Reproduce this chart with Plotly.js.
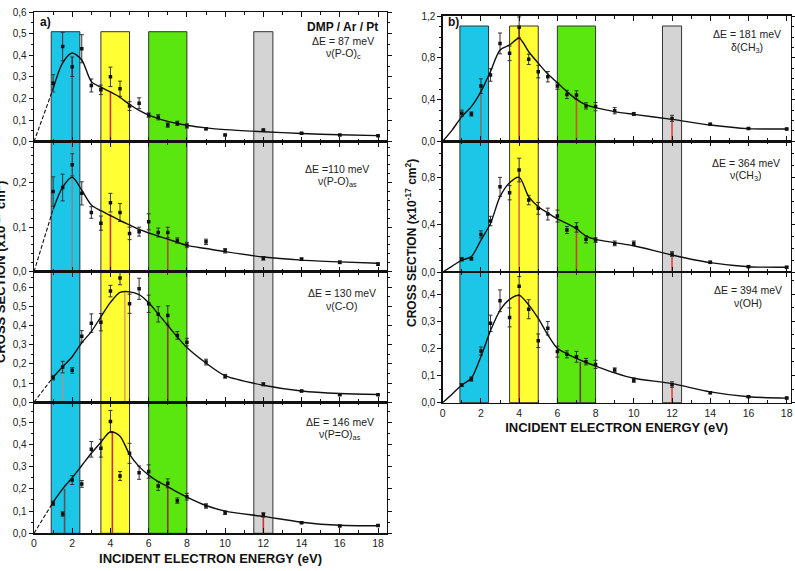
<!DOCTYPE html>
<html><head><meta charset="utf-8">
<script src="https://cdn.plot.ly/plotly-3.0.1.min.js"></script>
<style>html,body{margin:0;padding:0;background:#fff}#chart{width:795px;height:571px}</style>
</head><body><div id="chart"></div>
<script>
// ---------- data ----------
const energy = [1,1.5,2,2.5,3,3.5,4,4.5,5,5.5,6,6.5,7,7.5,8,9,10,12,14,16,18];
const fitEnergy = [0,0.5,1,1.5,2,2.5,3,3.5,4,4.5,5,5.5,6,6.5,7,7.5,8,9,10,12,14,16,18];

// a) DMP / Ar / Pt
const cs87  = [0.27,0.44,0.347,0.43,0.26,0.24,0.30,0.245,0.165,0.178,0.123,0.113,0.077,0.085,0.073,0.06,0.031,0.054,0.039,0.031,0.028];
const err87 = [0.04,0.066,0.045,0.065,0.03,0.022,0.045,0.035,0.02,0.025,0.01,0.012,0.01,0.01,0.01,0.005,0.004,0.004,0.004,0.003,0.003];
const fit87 = [0,0.125,0.245,0.365,0.41,0.378,0.278,0.252,0.23,0.205,0.172,0.145,0.123,0.107,0.094,0.084,0.076,0.064,0.056,0.046,0.038,0.032,0.028];

const cs110  = [0.18,0.189,0.24,0.176,0.133,0.109,0.155,0.133,0.086,0.09,0.112,0.088,0.088,0.07,0.06,0.067,0.047,0.03,0.028,0.021,0.017];
const err110 = [0.033,0.03,0.025,0.026,0.013,0.016,0.021,0.02,0.014,0.01,0.018,0.01,0.012,0.006,0.006,0.006,0.005,0.004,0.003,0.003,0.003];
const fit110 = [0,0.07,0.14,0.19,0.212,0.183,0.15,0.137,0.126,0.115,0.105,0.095,0.087,0.08,0.073,0.066,0.059,0.052,0.045,0.033,0.026,0.022,0.019];

const cs130  = [0.128,0.183,0.166,0.343,0.412,0.417,0.579,0.647,0.513,0.591,0.513,0.458,0.452,0.348,0.313,0.209,0.135,0.093,0.058,0.039,0.039];
const err130 = [0.012,0.03,0.015,0.03,0.048,0.045,0.03,0.035,0.05,0.055,0.045,0.04,0.05,0.02,0.02,0.015,0.01,0.008,0.004,0.003,0.003];
const fit130 = [0,0.065,0.13,0.185,0.237,0.31,0.368,0.445,0.52,0.572,0.575,0.56,0.518,0.46,0.4,0.34,0.285,0.204,0.138,0.088,0.058,0.045,0.04];

const cs146  = [0.135,0.087,0.24,0.222,0.378,0.383,0.503,0.258,0.36,0.273,0.278,0.213,0.225,0.147,0.165,0.123,0.093,0.083,0.048,0.033,0.035];
const err146 = [0.01,0.01,0.02,0.015,0.035,0.04,0.05,0.02,0.045,0.03,0.03,0.02,0.02,0.012,0.015,0.01,0.008,0.01,0.004,0.003,0.003];
const fit146 = [0,0.07,0.14,0.2,0.25,0.305,0.36,0.41,0.457,0.437,0.355,0.3,0.262,0.233,0.21,0.185,0.163,0.125,0.1,0.076,0.05,0.036,0.034];

// b)
const cs181  = [0.27,0.262,0.53,0.637,0.94,0.845,1.094,0.787,0.669,0.62,0.53,0.45,0.445,0.34,0.333,0.294,0.262,0.22,0.163,0.122,0.118];
const err181 = [0.03,0.02,0.07,0.06,0.1,0.07,0.1,0.05,0.06,0.05,0.03,0.04,0.04,0.03,0.04,0.03,0.015,0.03,0.01,0.008,0.008];
const fit181 = [0,0.11,0.237,0.333,0.477,0.67,0.877,0.925,0.99,0.86,0.75,0.646,0.563,0.477,0.403,0.349,0.323,0.285,0.259,0.211,0.157,0.122,0.118];

const cs364  = [0.107,0.113,0.318,0.431,0.72,0.67,0.862,0.608,0.538,0.49,0.473,0.355,0.377,0.276,0.27,0.242,0.242,0.152,0.082,0.045,0.04];
const err364 = [0.015,0.01,0.03,0.04,0.08,0.06,0.1,0.04,0.05,0.05,0.05,0.03,0.04,0.03,0.02,0.02,0.02,0.02,0.01,0.008,0.008];
const fit364 = [0,0.05,0.1,0.13,0.27,0.41,0.637,0.755,0.8,0.637,0.552,0.5,0.45,0.41,0.366,0.304,0.276,0.248,0.222,0.144,0.079,0.045,0.04];

const cs394  = [0.065,0.087,0.19,0.292,0.375,0.314,0.429,0.344,0.228,0.274,0.188,0.178,0.169,0.151,0.141,0.12,0.083,0.067,0.037,0.022,0.017];
const err394 = [0.005,0.008,0.015,0.03,0.04,0.035,0.035,0.035,0.025,0.025,0.02,0.013,0.02,0.012,0.015,0.008,0.008,0.01,0.004,0.003,0.003];
const fit394 = [0,0.032,0.065,0.09,0.17,0.265,0.34,0.38,0.395,0.36,0.31,0.25,0.2,0.18,0.163,0.148,0.135,0.11,0.09,0.07,0.04,0.022,0.017];

// resonance bands (eV)
const bandStart = [0.9, 3.5, 6.0, 11.5];
const bandEnd   = [2.4, 5.0, 8.0, 12.5];

// long vertical marks (panel index, energy, top value)
const markPanel = [0,0, 1,1,1, 2,2,2, 3,3,3,3, 4,4,4,4, 5,5,5, 6,6,6];
const markX     = [2,4, 2,4,7, 1.5,4.75,7, 1.6,4.1,7,12, 2,4,7,12, 4,7,12, 4,7.2,12];
const markTop   = [0.39,0.23, 0.29,0.13,0.08, 0.17,0.58,0.42, 0.2,0.46,0.22,0.075, 0.55,1.09,0.42,0.22, 0.85,0.37,0.15, 0.4,0.15,0.07];

const panelLabels = ['\u0394E = 87 meV','\u0394E =110 meV','\u0394E = 130 meV','\u0394E = 146 meV','\u0394E = 181 meV','\u0394E = 364 meV','\u0394E = 394 meV'];
const modeLabels  = ['\u03bd(P-O)<sub>c</sub>','\u03bd(P-O)<sub>as</sub>','\u03bd(C-O)','\u03bd(P=O)<sub>as</sub>','\u03b4(CH<sub>3</sub>)','\u03bd(CH<sub>3</sub>)','\u03bd(OH)'];

// ---------- build ----------
const series = [[cs87,err87,fit87],[cs110,err110,fit110],[cs130,err130,fit130],[cs146,err146,fit146],
                [cs181,err181,fit181],[cs364,err364,fit364],[cs394,err394,fit394]];
const W = 795, H = 571;
const px = v => v / W, py = v => 1 - v / H;
// panel geometry (pixels)
const geo = [
  {x:[34,387], y:[12,141.7], r:[0,0.6], d:0.1, m:0.05, yl:[41,54], xl:343},
  {x:[34,387], y:[141.7,271.7], r:[0,0.292], d:0.1, m:0.02, yl:[169,182], xl:337},
  {x:[34,387], y:[271.7,402.2], r:[0,0.68], d:0.1, m:0.05, yl:[293,306], xl:342},
  {x:[34,387], y:[402.2,533.3], r:[0,0.59], d:0.1, m:0.05, yl:[422,435], xl:340},
  {x:[442.7,790.7], y:[15.5,141.3], r:[0,1.208], d:0.4, m:0.1, yl:[34,48], xl:747},
  {x:[442.7,790.7], y:[141.3,272], r:[0,1.105], d:0.4, m:0.1, yl:[163,176], xl:746},
  {x:[442.7,790.7], y:[272,402.7], r:[0,0.481], d:0.1, m:0.05, yl:[290,303], xl:748}
];
const font = 'Liberation Sans, Arial, sans-serif';
const markColors = ['#555','#c83228','#888','#c83228','#a0522d','#999','#e8a060','#8b3a3a','#555','#c83228','#8b3a3a','#d03030',
                    '#777','#d03a2a','#d05030','#e04040','#e07040','#d04030','#e04040','#c83228','#6b3a2a','#e04040'];
const traces = [];
const layout = {
  width: W, height: H, margin:{l:0,r:0,t:0,b:0}, showlegend:false,
  paper_bgcolor:'#fff', plot_bgcolor:'rgba(0,0,0,0)', separators:', ',
  font:{family:font, size:11, color:'#222'}, shapes:[], annotations:[]
};
geo.forEach((g,i) => {
  const n = i+1, xs = n===1?'':n, xa='x'+xs, ya='y'+xs;
  const xr = i<4 ? [0,18.47] : [0,18.21];
  const bottom = (i===3 || i===6);
  layout['xaxis'+xs] = {
    domain:[px(g.x[0]), px(g.x[1])], range:xr, anchor:ya, showgrid:false, zeroline:false,
    showline:true, linecolor:'#111', linewidth:1.3, mirror:'allticks', ticks:'inside', ticklen:5, tickwidth:1, tickcolor:'#111',
    tick0:0, dtick:2, minor:{dtick:1, ticks:'inside', ticklen:3, tickcolor:'#111'},
    showticklabels:bottom, tickfont:{size:10.5, family:font, color:'#222'},
    title: bottom ? {text:'<b>INCIDENT ELECTRON ENERGY (eV)</b>', font:{size:13, family:font, color:'#111'}, standoff:5} : {text:''}
  };
  layout['yaxis'+xs] = {
    domain:[py(g.y[1]), py(g.y[0])], range:g.r, anchor:xa, showgrid:false, zeroline:false,
    showline:true, linecolor:'#111', linewidth:1.3, mirror:'ticks', ticks:'outside', ticklen:4, tickcolor:'#111',
    tick0:0, dtick:g.d, tickformat:'.1f', minor:{dtick:g.m, ticks:'outside', ticklen:2, tickcolor:'#111'},
    tickfont:{size:10, family:font, color:'#222'}
  };
  markPanel.forEach((p,k) => {
    if (p !== i) return;
    traces.push({x:[markX[k],markX[k]], y:[0,markTop[k]], xaxis:xa, yaxis:ya, mode:'lines',
      line:{color:markColors[k], width:1.6}, hoverinfo:'skip'});
  });
  const [cs, er, fit] = series[i];
  traces.push({x:energy, y:cs, xaxis:xa, yaxis:ya, mode:'markers', type:'scatter',
    marker:{symbol:'square', size:3.5, color:'#111'},
    error_y:{type:'data', array:er, visible:true, color:'#333', thickness:1, width:2}});
  if (i < 4) {
    traces.push({x:fitEnergy.slice(0,3), y:fit.slice(0,3), xaxis:xa, yaxis:ya, mode:'lines',
      line:{color:'#111', width:1.1, dash:'4px,2px'}, hoverinfo:'skip'});
    traces.push({x:fitEnergy.slice(2), y:fit.slice(2), xaxis:xa, yaxis:ya, mode:'lines',
      line:{color:'#111', width:1.4, shape:'spline', smoothing:0.8}, hoverinfo:'skip'});
  } else {
    traces.push({x:fitEnergy, y:fit, xaxis:xa, yaxis:ya, mode:'lines',
      line:{color:'#111', width:1.4, shape:'spline', smoothing:0.8}, hoverinfo:'skip'});
  }
  layout.annotations.push({xref:'paper', yref:'paper', x:px(g.xl), y:py(g.yl[0]), text:panelLabels[i], showarrow:false,
    xanchor:'center', yanchor:'middle', font:{size:10.5, family:font, color:'#222'}});
  layout.annotations.push({xref:'paper', yref:'paper', x:px(g.xl), y:py(g.yl[1]), text:modeLabels[i], showarrow:false,
    xanchor:'center', yanchor:'middle', font:{size:10.5, family:font, color:'#222'}});
});
const bandColors = ['#1cc6e6','#ffff33','#5ae60f','#d4d4d4'];
bandStart.forEach((s,k) => {
  layout.shapes.push({type:'rect', xref:'x', yref:'paper', x0:s, x1:bandEnd[k], y0:py(533.3), y1:py(31.7),
    fillcolor:bandColors[k], line:{color:'#333', width:1}, layer:'below'});
  layout.shapes.push({type:'rect', xref:'x5', yref:'paper', x0:s, x1:bandEnd[k], y0:py(402.7), y1:py(26),
    fillcolor:bandColors[k], line:{color:'#333', width:1}, layer:'below'});
});
layout.annotations.push(
  {xref:'paper', yref:'paper', x:px(38), y:py(22), text:'<b>a)</b>', showarrow:false, xanchor:'left', yanchor:'middle', font:{size:12, family:font, color:'#111'}},
  {xref:'paper', yref:'paper', x:px(446), y:py(22), text:'<b>b)</b>', showarrow:false, xanchor:'left', yanchor:'middle', font:{size:12, family:font, color:'#111'}},
  {xref:'paper', yref:'paper', x:px(342), y:py(27), text:'<b>DMP / Ar / Pt</b>', showarrow:false, xanchor:'center', yanchor:'middle', font:{size:12, family:font, color:'#111'}},
  {xref:'paper', yref:'paper', x:px(0), y:py(272), text:'<b>CROSS SECTION (x10<sup>-17</sup> cm<sup>2</sup>)</b>', showarrow:false,
    textangle:-90, xanchor:'center', yanchor:'middle', font:{size:13, family:font, color:'#111'}},
  {xref:'paper', yref:'paper', x:px(411), y:py(243), text:'<b>CROSS SECTION (x10<sup>-17</sup> cm<sup>2</sup>)</b>', showarrow:false,
    textangle:-90, xanchor:'center', yanchor:'middle', font:{size:12, family:font, color:'#111'}}
);
Plotly.newPlot('chart', traces, layout, {displayModeBar:false, staticPlot:true});
</script></body></html>
